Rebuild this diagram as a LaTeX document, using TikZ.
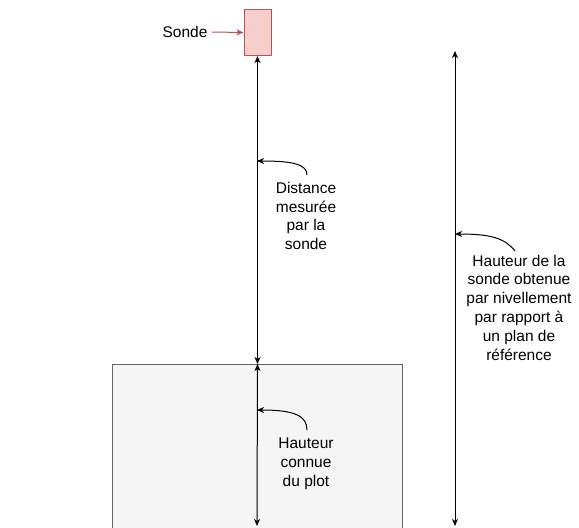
\documentclass[tikz,border=0pt]{standalone}
\usepackage{fontspec}
\setmainfont{Liberation Sans}
\usetikzlibrary{arrows.meta}
\definecolor{pinkfill}{HTML}{F8CECC}
\definecolor{pinkline}{HTML}{B85450}
\definecolor{plotfill}{HTML}{F5F5F5}
\definecolor{plotline}{HTML}{666666}
\tikzset{
  txt/.style={font=\fontsize{15.5pt}{18.8pt}\selectfont, align=center, inner sep=0pt},
  tip/.style={-{Stealth[length=7pt,width=6pt,inset=2pt]}},
  dtip/.style={{Stealth[length=7pt,width=6pt,inset=2pt]}-{Stealth[length=7pt,width=6pt,inset=2pt]}},
  meas/.style={draw=black, line width=1pt},
}
\begin{document}
\begin{tikzpicture}[x=1pt,y=-1pt]
\useasboundingbox (0,0) rectangle (579,528);
\clip (0,0) rectangle (579,528);
% plot box
\node[draw=plotline, fill=plotfill, line width=1pt, minimum width=290pt, minimum height=200pt, anchor=north west, inner sep=0pt] (plot) at (112,364) {};
% sonde
\node[draw=pinkline, fill=pinkfill, line width=1pt, minimum width=27pt, minimum height=46pt, anchor=north west, inner sep=0pt] (sondebox) at (243.5,9) {};
\node[txt] (sondelabel) at (185,32) {Sonde};
\coordinate (sl) at (212,32);
\draw[tip, draw=pinkline, line width=1pt] (sl) -- (sondebox.west);
% measurement lines
\coordinate (plotbot) at (257,526);
\draw[meas, dtip] (sondebox.south -| plot.north) -- (plot.north);
\draw[meas, dtip] (plot.north) -- (plotbot);
\coordinate (rtop) at (455,51);
\coordinate (rbot) at (455,526);
\draw[meas, dtip] (rtop) -- (rbot);
% texts
\node[txt] (t1) at (306,216) {Distance\\mesurée\\par la\\sonde};
\node[txt] (t2) at (519,307.5) {Hauteur de la\\sonde obtenue\\par nivellement\\par rapport à\\un plan de\\référence};
\node[txt] (t3) at (306,464) {Hauteur\\connue\\du plot};
% curved pointers
\coordinate (s1) at (307,175);
\coordinate (e1) at (257,161);
\draw[tip, line width=1pt] (s1) .. controls (307,164) and (292,161) .. (e1);
\coordinate (s2) at (515,251);
\coordinate (e2) at (455,234);
\draw[tip, line width=1pt] (s2) .. controls (505,238) and (490,234) .. (e2);
\coordinate (s3) at (307,430);
\coordinate (e3) at (257,410);
\draw[tip, line width=1pt] (s3) .. controls (307,416) and (295,410) .. (e3);
\end{tikzpicture}
\end{document}
